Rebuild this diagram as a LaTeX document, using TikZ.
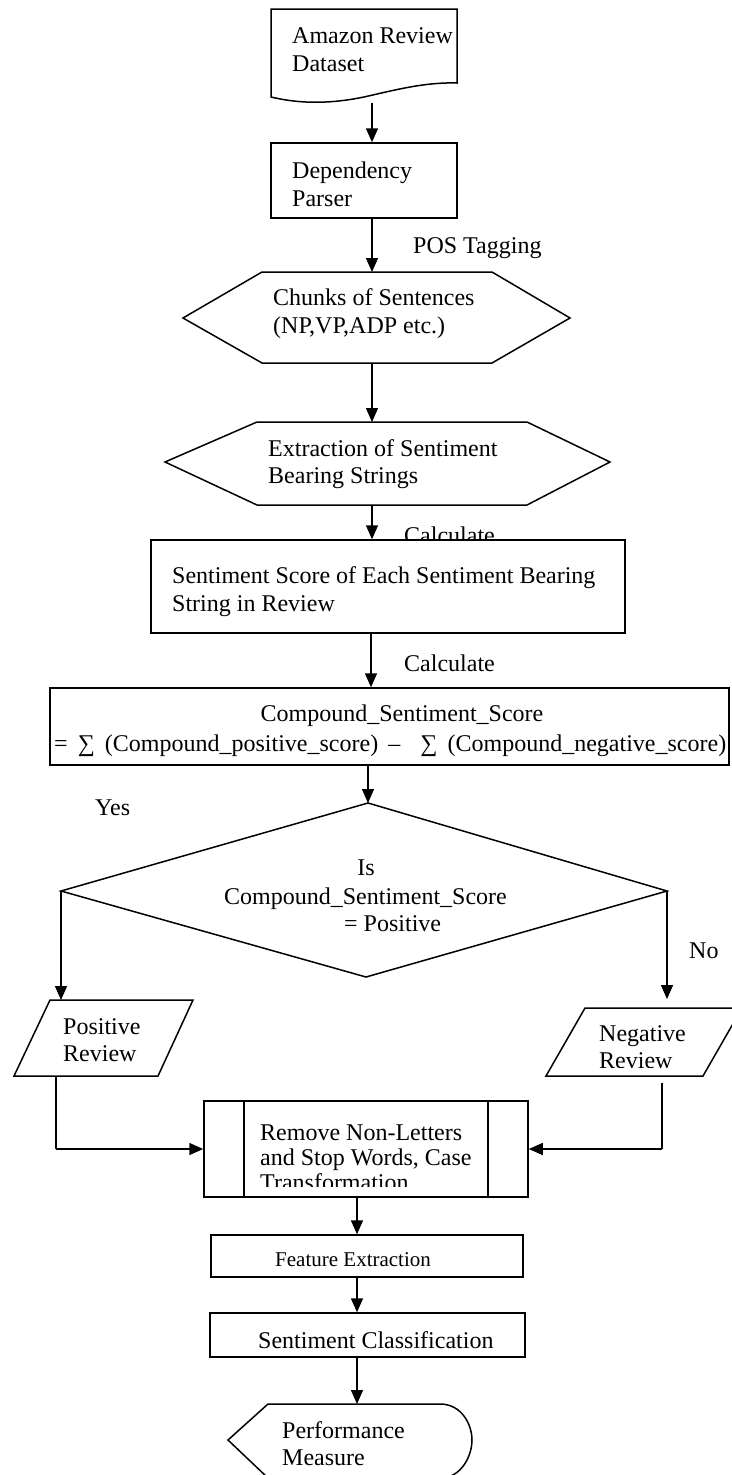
\documentclass[tikz,border=0pt]{standalone}
\usepackage{fontspec}
\setmainfont{Liberation Serif}
\usetikzlibrary{arrows.meta}
\begin{document}
\begin{tikzpicture}[x=1pt,y=-1pt,
  shp/.style={draw=black, fill=white, line width=1.5pt, line join=miter},
  arr/.style={-{Triangle[length=14pt,width=12pt]}, line width=1.5pt},
  ln/.style={line width=1.5pt},
  txt/.style={font=\fontsize{24}{28}\selectfont, inner sep=0pt, anchor=base west},
  ctxt/.style={font=\fontsize{24}{28}\selectfont, inner sep=0pt, anchor=base},
  stxt/.style={font=\fontsize{21}{25}\selectfont, inner sep=0pt, anchor=base west},
  box/.style={draw=black, fill=white, inner sep=0pt, line width=1.5pt}]
\useasboundingbox (0,0) rectangle (731,1475);

% ---------- labels that sit under shapes ----------
\node[txt] (lcalc1) at (404,543) {Calculate};

% ---------- Amazon Review Dataset (document) ----------
\draw[shp] (271,9) -- (457,9) -- (457,83)
  .. controls (425,82) and (395,90) .. (364,97)
  .. controls (330,104) and (300,104) .. (271,97) -- cycle;
\coordinate (docb) at (372,103);
\node[txt] (tdoc1) at (292,43) {Amazon Review};
\node[txt] (tdoc2) at (292,71) {Dataset};

% ---------- Dependency Parser ----------
\node[box, minimum width=186pt, minimum height=75pt] (dep) at (364,180.5) {};
\node[txt] (tdep1) at (292,178) {Dependency};
\node[txt] (tdep2) at (292,206) {Parser};
\node[txt] (lpos) at (413,253) {POS Tagging};

% ---------- Hexagon 1 ----------
\draw[shp] (183,318) -- (262,272) -- (492,272) -- (570,318) -- (492,363) -- (262,363) -- cycle;
\coordinate (h1t) at (372,272);
\coordinate (h1b) at (372,363);
\node[txt] (th11) at (273,305) {Chunks of Sentences};
\node[txt] (th12) at (273,333) {(NP,VP,ADP etc.)};

% ---------- Hexagon 2 ----------
\draw[shp] (165,462) -- (257,422) -- (527,422) -- (610,462) -- (527,505) -- (257,505) -- cycle;
\coordinate (h2t) at (372,422);
\coordinate (h2b) at (372,505);
\node[txt] (th21) at (268,456) {Extraction of Sentiment};
\node[txt] (th22) at (268,483) {Bearing Strings};

% ---------- Sentiment Score box ----------
\node[box, minimum width=474pt, minimum height=93pt] (ss) at (388,586.5) {};
\node[txt] (tss1) at (172,583) {Sentiment Score of Each Sentiment Bearing};
\node[txt] (tss2) at (172,611) {String in Review};
\node[txt] (lcalc2) at (404,671) {Calculate};

% ---------- Compound box ----------
\node[box, minimum width=679pt, minimum height=77pt] (cs) at (389.5,726.5) {};
\node[ctxt] (tcs1) at (402,721) {Compound\_Sentiment\_Score};
\node[txt] (tcs2) at (54,751) {\makebox[672pt][s]{= ∑ (Compound\_positive\_score) – \ ∑ (Compound\_negative\_score)}};

% ---------- Decision diamond ----------
\draw[shp] (368,803) -- (667,891) -- (366,977) -- (61,891) -- cycle;
\coordinate (dt) at (368,803);
\coordinate (dl) at (61,891);
\coordinate (dr) at (667,891);
\node[txt] (lyes) at (95,815) {Yes};
\node[ctxt] (tdi1) at (366,875) {Is};
\node[txt] (tdi2) at (224,904) {Compound\_Sentiment\_Score};
\node[txt] (tdi3) at (344,931) {= Positive};
\node[txt] (lno) at (689,958) {No};

% ---------- Positive Review ----------
\draw[shp] (50,1000) -- (193,1000) -- (158,1076) -- (14,1076) -- cycle;
\coordinate (pt) at (61,1000);
\coordinate (pb) at (56,1076);
\node[txt] (tpos1) at (63,1034) {Positive};
\node[txt] (tpos2) at (63,1061) {Review};

% ---------- Negative Review ----------
\draw[shp] (585,1008) -- (742,1008) -- (703,1076) -- (546,1076) -- cycle;
\coordinate (nt) at (667,999);
\coordinate (nb) at (662,1083);
\node[txt] (tneg1) at (599,1041) {Negative};
\begin{scope}
\clip (540,1045) rectangle (731,1067);
\node[txt] (tneg2) at (599,1068) {Review};
\end{scope}

% ---------- Remove (predefined process) ----------
\node[box, minimum width=324pt, minimum height=96pt] (rm) at (366,1149) {};
\draw[ln] (244,1101) -- (244,1197);
\draw[ln] (488,1101) -- (488,1197);
\node[txt] (trm1) at (260,1140) {Remove Non-Letters};
\node[txt] (trm2) at (260,1165) {and Stop Words, Case};
\begin{scope}
\clip (250,1170) rectangle (480,1186);
\node[txt] (trm3) at (260,1190) {Transformation};
\end{scope}
\coordinate (pc) at (56,1149);
\coordinate (nc) at (662,1149);

% ---------- Feature Extraction ----------
\node[box, minimum width=312pt, minimum height=42pt] (fe) at (367,1256) {};
\node[stxt] (tfe) at (275,1266) {Feature Extraction};

% ---------- Sentiment Classification ----------
\node[box, minimum width=315pt, minimum height=44pt] (sc) at (367.5,1335) {};
\node[txt] (tsc) at (258,1348) {Sentiment Classification};

% ---------- Performance Measure (display) ----------
\draw[shp] (228,1440) -- (268,1404) -- (440,1404)
  .. controls (462,1404) and (472,1425) .. (472,1440)
  .. controls (472,1455) and (462,1478) .. (440,1478) -- (268,1478) -- cycle;
\coordinate (pm) at (357,1404);
\node[txt] (tpm1) at (282,1438) {Performance};
\node[txt] (tpm2) at (282,1465) {Measure};

% ---------- connectors ----------
\draw[arr] (docb) -- (docb |- dep.north);
\draw[arr] (docb |- dep.south) -- (h1t);
\draw[arr] (h1b) -- (h2t);
\draw[arr] (h2b) -- (h2b |- ss.north);
\draw[arr] (371,0 |- ss.south) -- (371,0 |- cs.north);
\draw[arr] (dt |- cs.south) -- (dt);
\draw[arr] (dl) -- (pt);
\draw[arr] (dr) -- (nt);
\draw[ln] (pb) -- (pc);
\draw[arr] (pc) -- (rm.west |- pc);
\draw[ln] (nb) -- (nc);
\draw[arr] (nc) -- (rm.east |- nc);
\draw[arr] (357,0 |- rm.south) -- (357,0 |- fe.north);
\draw[arr] (357,0 |- fe.south) -- (357,0 |- sc.north);
\draw[arr] (357,0 |- sc.south) -- (pm);
\end{tikzpicture}
\end{document}
